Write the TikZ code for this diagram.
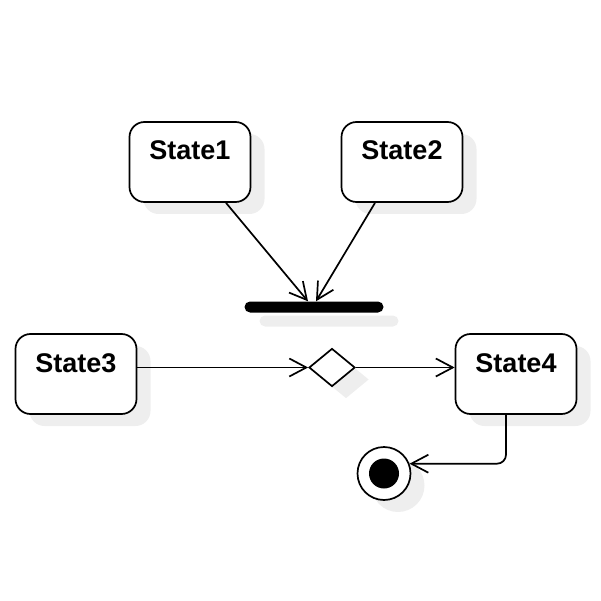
\documentclass[tikz,border=0pt]{standalone}
\usepackage{fontspec}
\setmainfont{Liberation Sans}
\usetikzlibrary{
	arrows.meta,
	shapes.geometric,
	shadows,
	positioning
}
\definecolor{ShadeGray}{RGB}{238,238,238}

\tikzset{
	shade box/.style={drop shadow={shadow xshift=14pt, shadow yshift=-12pt, fill=ShadeGray, opacity=1}},
	state/.style={draw, line width=1.7pt, rounded corners=15pt, fill=white, shade box,
		minimum width=121pt, inner sep=0pt, text height=38pt, text depth=42pt,
		font=\fontsize{27}{31}\selectfont\bfseries},
	flow/.style={line width=1.7pt, -{Straight Barb[length=17pt, width=18pt]}}
}

\begin{document}
\begin{tikzpicture}[x=1pt, y=-1pt]
		\useasboundingbox (0,0) rectangle (601,601);
		
		% 状态
		\node[state] (s1) at (190,162) {State1};
		\node[state] (s2) at (402,162) {State2};
		\node[state] (s3) at (76,374) {State3};
		\node[state] (s4) at (516,374) {State4};
		
		% 同步条
		\node[fill=black, rounded corners=5.5pt, minimum width=139pt, minimum height=11pt, inner sep=0pt,
			drop shadow={shadow xshift=15pt, shadow yshift=-14pt, fill=ShadeGray, opacity=1}] (bar) at (314,307) {};
		
		% 判断
		\node[diamond, draw, line width=1.7pt, fill=white, shade box, minimum width=46pt, minimum height=38pt, inner sep=0pt] (dia) at (332,367.5) {};
		
		% 终止
		\node[circle, draw, line width=1.7pt, fill=white, shade box, minimum size=53pt, inner sep=0pt] (fin) at (384,473.5) {};
		\node[circle, fill=black, minimum size=30pt, inner sep=0pt] (fin dot) at (fin.center) {};
		
		\draw[flow] ([xshift=36pt]s1.south) -- ([xshift=-6pt]bar.north);
		\draw[flow] ([xshift=-27pt]s2.south) -- ([xshift=2pt]bar.north);
		\draw[flow] ([yshift=6.5pt]s3.east) -- (dia.west);
		\draw[flow] (dia.east) -- ([yshift=6.5pt]s4.west);
		\draw[flow, rounded corners=9pt] ([xshift=-10pt]s4.south) |- (fin.21);
	\end{tikzpicture}
\end{document}
